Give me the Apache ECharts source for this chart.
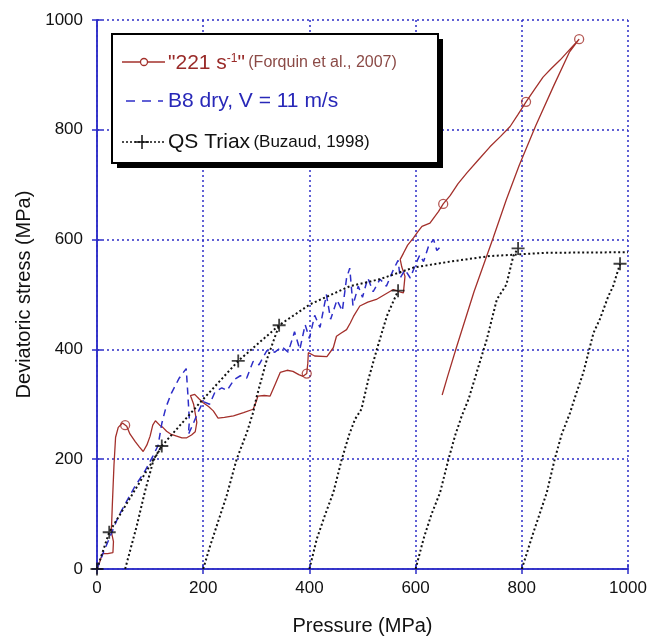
<!DOCTYPE html>
<html>
<head>
<meta charset="utf-8">
<script src="https://cdn.jsdelivr.net/npm/echarts@6/dist/echarts.min.js"></script>
</head>
<body style="margin: 0">
<div id="container" style="width: 659px; height: 641px;"></div>
<script>
// axis ranges / ticks
var axisMin = 0;
var axisMax = 1000;
var axisStep = 200;

// "221 s-1" (Forquin et al., 2007) - loading then unloading
var redCurve = [
  [0,0],[6,15],[10,28],[20,28],[30,30],[31,50],[27,68],[29,120],[32,190],[35,240],[40,258],
  [48,266],[56,260],[62,246],[72,232],[80,222],[87,214],[94,226],[100,242],[105,262],[110,270],
  [118,262],[124,258],[131,251],[140,245],[150,242],[160,239],[169,239],[178,244],[185,250],
  [188,267],[182,300],[176,316],[184,318],[192,310],[200,303],[210,296],[219,288],[228,275],
  [240,276],[257,279],[276,285],[294,291],[300,305],[303,315],[315,316],[326,315],[335,335],
  [345,358],[358,362],[369,360],[380,354],[388,351],[395,356],[397,375],[398,394],[410,388],
  [433,387],[445,403],[451,424],[460,430],[470,436],[477,448],[483,460],[495,479],[510,486],
  [526,491],[542,500],[558,509],[570,505],[577,503],[580,533],[574,550],[571,564],[577,575],
  [585,590],[596,603],[604,614],[612,624],[627,630],[636,642],[643,651],[652,665],[665,680],
  [680,702],[697,722],[718,745],[740,769],[760,788],[778,806],[793,828],[808,851],[825,875],
  [840,896],[856,912],[872,927],[890,946],[908,965],
  [890,942],[860,880],[826,807],[795,735],[771,673],[746,603],[710,505],[677,404],[660,350],[650,317]
];
var redMarks = [[53,262],[395,356],[652,665],[808,851],[908,965]];

// B8 dry, V = 11 m/s
var blueCurve = [
  [0,0],[12,30],[25,60],[40,95],[55,122],[70,148],[90,178],[105,205],[115,225],[122,265],
  [130,295],[140,320],[155,348],[168,365],[171,320],[174,270],[172,245],[180,262],[190,285],
  [200,305],[212,300],[222,322],[235,330],[245,325],[258,345],[270,352],[282,348],[294,378],
  [305,372],[320,398],[335,395],[348,405],[360,395],[372,432],[382,400],[392,445],[400,420],
  [410,462],[420,440],[432,500],[440,455],[452,490],[462,470],[470,530],[476,548],[482,480],
  [492,515],[500,495],[510,530],[520,505],[533,528],[545,515],[558,545],[567,562],[571,530],
  [580,545],[590,530],[600,555],[608,572],[615,560],[625,590],[634,600],[640,580],[650,590]
];

// QS Triax (Buzaud, 1998): envelope and reloading paths
var qsEnvelope = [
  [0,0],[23,67],[122,224],[194,303],[266,379],[343,444],[401,482],[476,515],[533,528],
  [596,549],[665,560],[740,570],[847,576],[1000,577]
];
var qsCycle1 = [[53,0],[60,25],[75,79],[90,140],[106,197],[122,224]];
var qsCycle2 = [[200,0],[213,42],[244,133],[263,200],[282,248],[294,285],[301,315],[320,382],[343,444]];
var qsCycle3 = [[400,0],[414,55],[430,100],[445,139],[461,200],[475,245],[486,273],[498,291],[511,345],[527,400],[546,461],[567,507]];
var qsCycle4 = [[600,0],[615,55],[630,100],[646,139],[662,200],[675,245],[687,279],[700,310],[715,358],[734,418],[753,491],[771,518],[784,570],[793,584]];
var qsCycle5 = [[800,0],[822,67],[847,139],[862,200],[875,245],[891,285],[903,321],[916,358],[935,430],[947,455],[963,497],[972,515],[985,556]];
var qsMarks = [[0,0],[23,67],[122,224],[266,379],[343,444],[567,507],[793,584],[985,556]];

var blue = '#2e2ec8';
var red = '#a3302b';
var plus = 'path://M4.3,0H5.7V4.3H10V5.7H5.7V10H4.3V5.7H0V4.3H4.3Z';

var dom = document.getElementById('container');
var myChart = echarts.init(dom);

function qsLine(d) {
  return {
    name: 'QS Triax', type: 'line', data: d, symbol: 'none', silent: true, z: 4,
    lineStyle: { color: '#111', width: 2, type: [2, 2.5] }
  };
}

function valueAxis(pos, extra) {
  var ax = {
    type: 'value', position: pos, min: axisMin, max: axisMax, interval: axisStep,
    axisLine: { show: true, lineStyle: { color: blue, width: 1.5 } },
    axisTick: { show: true, inside: true, length: 5, lineStyle: { color: blue, width: 1.5 } },
    axisLabel: { show: false },
    splitLine: { show: false }
  };
  return Object.assign(ax, extra || {});
}

var labelStyle = {
  show: true, color: '#111', fontSize: 17, fontFamily: 'Liberation Sans',
  formatter: function (v) { return String(v); }
};
var gridLine = { show: true, lineStyle: { color: blue, width: 1.5, type: [2, 3] } };

var option = {
  animation: false,
  backgroundColor: '#fff',
  grid: { left: 97, right: 31, top: 20, bottom: 71 },
  xAxis: [
    valueAxis('bottom', {
      axisLabel: Object.assign({ margin: 11 }, labelStyle),
      splitLine: gridLine,
      name: 'Pressure (MPa)', nameLocation: 'middle', nameGap: 47,
      nameTextStyle: { color: '#111', fontSize: 20, fontFamily: 'Liberation Sans' }
    }),
    valueAxis('top')
  ],
  yAxis: [
    valueAxis('left', {
      axisLabel: Object.assign({ margin: 14 }, labelStyle),
      splitLine: gridLine,
      name: 'Deviatoric stress (MPa)', nameLocation: 'middle', nameGap: 60,
      nameTextStyle: { color: '#111', fontSize: 20, fontFamily: 'Liberation Sans' }
    }),
    valueAxis('right')
  ],
  series: [
    {
      name: '221', type: 'line', data: redCurve, symbol: 'none', z: 2,
      lineStyle: { color: red, width: 1.3 }
    },
    {
      name: '221', type: 'scatter', data: redMarks, symbol: 'circle', symbolSize: 9, z: 3,
      itemStyle: { color: 'rgba(255,255,255,0)', borderColor: red, borderWidth: 1.3 }
    },
    {
      name: 'B8', type: 'line', data: blueCurve, symbol: 'none', z: 3,
      lineStyle: { color: blue, width: 1.5, type: [7, 5] }
    },
    qsLine(qsEnvelope), qsLine(qsCycle1), qsLine(qsCycle2), qsLine(qsCycle3), qsLine(qsCycle4), qsLine(qsCycle5),
    {
      name: 'QS Triax', type: 'scatter', data: qsMarks, symbol: plus, symbolSize: 13, z: 5,
      itemStyle: { color: '#111' }
    }
  ],
  // legend box drawn by hand (shadowed frame, sample lines, rich labels)
  graphic: [
    { type: 'rect', z: 100, shape: { x: 117, y: 39, width: 326, height: 129 }, style: { fill: '#000' } },
    { type: 'rect', z: 101, shape: { x: 112, y: 34, width: 326, height: 129 }, style: { fill: '#fff', stroke: '#000', lineWidth: 2 } },
    { type: 'line', z: 102, shape: { x1: 122, y1: 62, x2: 165, y2: 62 }, style: { stroke: red, lineWidth: 1.3 } },
    { type: 'circle', z: 103, shape: { cx: 144, cy: 62, r: 3.5 }, style: { fill: '#fff', stroke: red, lineWidth: 1.3 } },
    { type: 'text', z: 102, x: 168, y: 63, style: {
        text: '{a|"221 s}{s|-1}{a|"} {b|(Forquin et al., 2007)}', verticalAlign: 'middle',
        rich: {
          a: { fontSize: 21, fill: '#992a28', fontFamily: 'Liberation Sans' },
          s: { fontSize: 12, fill: '#992a28', fontFamily: 'Liberation Sans', verticalAlign: 'top' },
          b: { fontSize: 16, fill: '#8b4a46', fontFamily: 'Liberation Sans' }
        } } },
    { type: 'line', z: 102, shape: { x1: 126, y1: 101, x2: 163, y2: 101 }, style: { stroke: blue, lineWidth: 1.5, lineDash: [9, 7] } },
    { type: 'text', z: 102, x: 168, y: 101, style: {
        text: 'B8 dry, V = 11 m/s', verticalAlign: 'middle', fontSize: 21, fill: '#2828b8', fontFamily: 'Liberation Sans' } },
    { type: 'line', z: 102, shape: { x1: 122, y1: 142, x2: 165, y2: 142 }, style: { stroke: '#111', lineWidth: 1.5, lineDash: [2, 2] } },
    { type: 'line', z: 103, shape: { x1: 135, y1: 142, x2: 149, y2: 142 }, style: { stroke: '#111', lineWidth: 1.5 } },
    { type: 'line', z: 103, shape: { x1: 142, y1: 135, x2: 142, y2: 149 }, style: { stroke: '#111', lineWidth: 1.5 } },
    { type: 'text', z: 102, x: 168, y: 142, style: {
        text: '{a|QS Triax} {b|(Buzaud, 1998)}', verticalAlign: 'middle',
        rich: {
          a: { fontSize: 21, fill: '#111', fontFamily: 'Liberation Sans' },
          b: { fontSize: 17, fill: '#111', fontFamily: 'Liberation Sans' }
        } } }
  ]
};

myChart.setOption(option);
</script>
</body>
</html>
